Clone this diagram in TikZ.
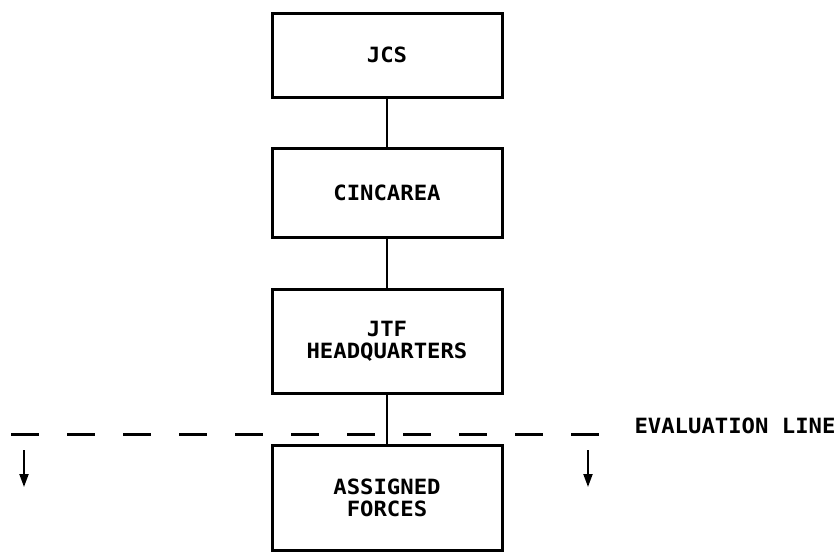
\documentclass[tikz,border=0pt]{standalone}
\usepackage{fontspec}
\newfontfamily\plotfont[FakeStretch=1.06]{DejaVu Sans Mono}
\usetikzlibrary{arrows.meta}

\begin{document}
\begin{tikzpicture}[
       x=1pt, y=-1pt,
       font=\plotfont\bfseries\fontsize{21}{22}\selectfont,
       boite/.style={
         draw,
         line width=3pt,
         minimum width=230pt,
         align=center,
         inner sep=0pt
       },
       lien/.style={line width=2pt},
       limite/.style={line width=3pt, dash pattern=on 28pt off 28pt},
       fleche/.style={line width=2pt, -{Triangle[length=13pt,width=9pt]}}
     ]
       \useasboundingbox (0,0) rectangle (836,554);

       \node (jcs) at (387,55) [boite, minimum height=84pt]{JCS};
       \node (cinc) at (387,192.5) [boite, minimum height=89pt]{CINCAREA};
       \node (jtf) at (387,341) [boite, minimum height=104pt]{JTF\\HEADQUARTERS};
       \node (forces) at (387,498) [boite, minimum height=105pt]{ASSIGNED\\FORCES};

       \draw[lien] (jcs) -- (cinc);
       \draw[lien] (cinc) -- (jtf);
       \draw[lien] (jtf) -- (forces);

       % evaluation line
       \coordinate (e1) at (11,434);
       \coordinate (e2) at (599,434);
       \draw[limite] (e1) -- (e2);
       \node (eval) at (631,426) [anchor=west]{EVALUATION LINE};

       \coordinate (g1) at (24,450);
       \coordinate (g2) at (24,487);
       \coordinate (d1) at (588,450);
       \coordinate (d2) at (588,487);
       \draw[fleche] (g1) -- (g2);
       \draw[fleche] (d1) -- (d2);

\end{tikzpicture}
\end{document}
